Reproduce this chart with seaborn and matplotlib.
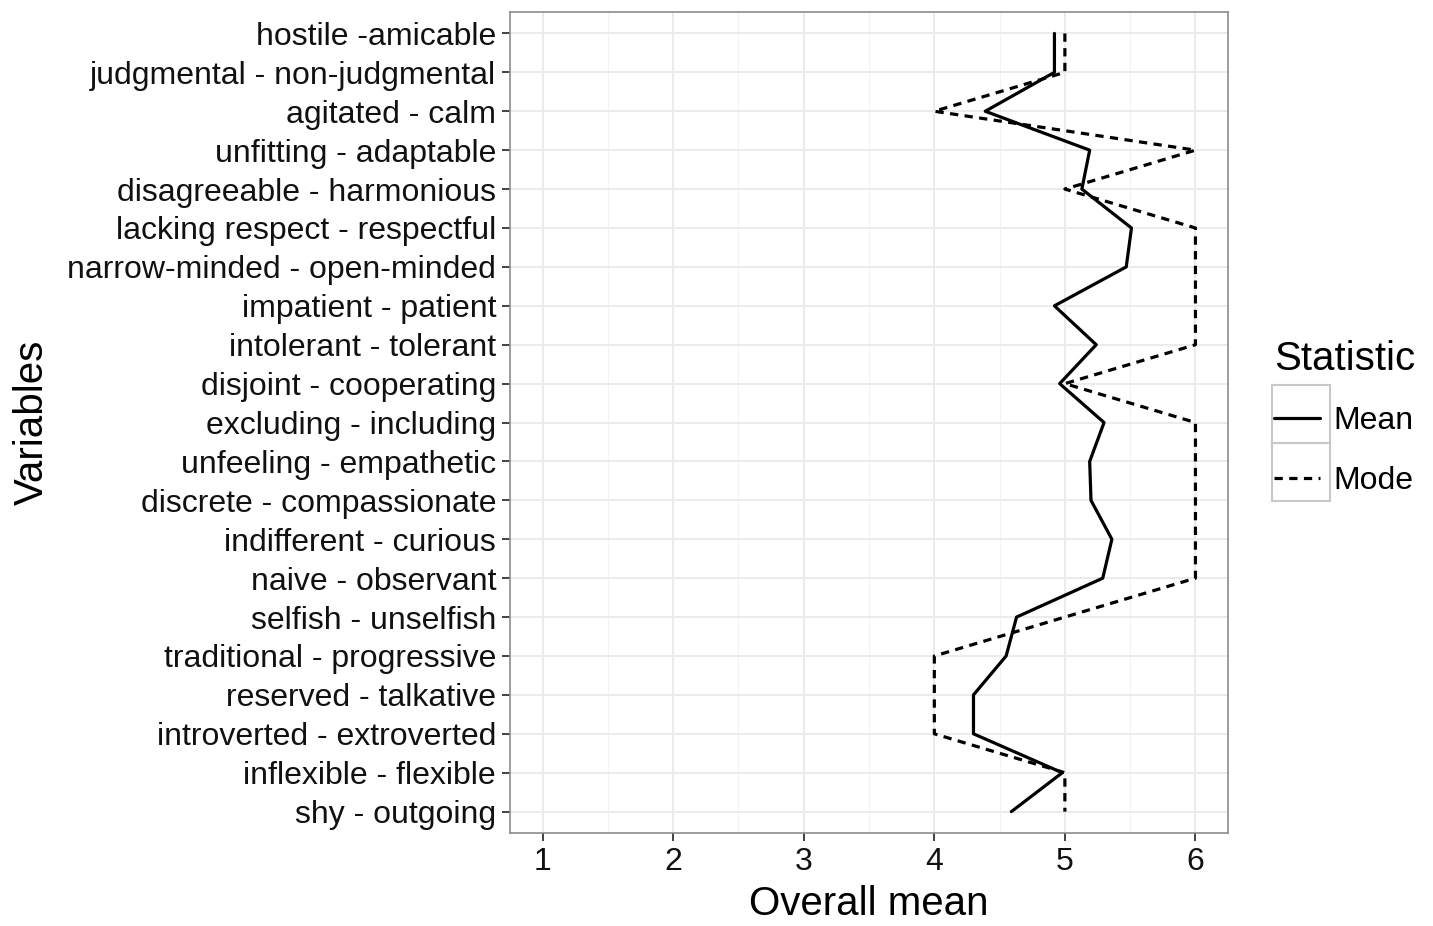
import numpy as np
import pandas as pd
import seaborn as sns
import matplotlib as mpl
mpl.use('Agg')
import matplotlib.pyplot as plt
from matplotlib.patches import Rectangle

# data
variables = ['hostile -amicable', 'judgmental - non-judgmental', 'agitated - calm',
             'unfitting - adaptable', 'disagreeable - harmonious',
             'lacking respect - respectful', 'narrow-minded - open-minded',
             'impatient - patient', 'intolerant - tolerant', 'disjoint - cooperating',
             'excluding - including', 'unfeeling - empathetic',
             'discrete - compassionate', 'indifferent - curious', 'naive - observant',
             'selfish - unselfish', 'traditional - progressive', 'reserved - talkative',
             'introverted - extroverted', 'inflexible - flexible', 'shy - outgoing']
mean_vals = [4.92, 4.92, 4.39, 5.19, 5.13, 5.51, 5.47, 4.92, 5.24, 4.96, 5.30,
             5.19, 5.20, 5.36, 5.29, 4.63, 4.55, 4.30, 4.30, 4.98, 4.59]
mode_vals = [5, 5, 4, 6, 5, 6, 6, 6, 6, 5, 6, 6, 6, 6, 6, 5, 4, 4, 4, 5, 5]
stat_names = ['Mean', 'Mode']

df = pd.DataFrame({'Variable': variables * 2,
                   'value': mean_vals + mode_vals,
                   'Statistic': [stat_names[0]] * len(variables) + [stat_names[1]] * len(variables)})

sns.set_style('whitegrid')
plt.rcParams['font.family'] = ['Liberation Sans', 'DejaVu Sans']
plt.rcParams['text.color'] = 'black'

fig = plt.figure(figsize=(14.33, 9.26), dpi=100)
ax = fig.add_axes([0.3559, 0.1004, 0.857 - 0.3559, 0.987 - 0.1004])

sns.lineplot(data=df, x='value', y='Variable', hue='Statistic', style='Statistic',
             palette=['black', 'black'], dashes={'Mean': '', 'Mode': (2.6, 2.0)},
             sort=False, orient='y', estimator=None, linewidth=2.3, ax=ax, legend=True)

ax.set_xlim(0.75, 6.25)
ax.set_ylim(len(variables) - 0.45, -0.55)
ax.set_xticks([1, 2, 3, 4, 5, 6])
ax.set_xticks([1.5, 2.5, 3.5, 4.5, 5.5], minor=True)
ax.grid(which='major', color='#ebebeb', linewidth=1.4)
ax.grid(which='minor', axis='x', color='#f3f3f3', linewidth=0.8)
ax.set_axisbelow(True)
for s in ax.spines.values():
    s.set_color('#8c8c8c')
    s.set_linewidth(1.2)
ax.tick_params(axis='both', which='major', length=6, width=1.3, color='#333333',
               labelsize=23, labelcolor='#111111', pad=4)
ax.tick_params(axis='x', which='minor', length=0)
ax.tick_params(left=True, bottom=True)
ax.set_xlabel('Overall mean', fontsize=29, color='black', labelpad=6)
ax.set_ylabel('Variables', fontsize=29, color='black', labelpad=12)

handles, labels = ax.get_legend_handles_labels()
leg = ax.legend(handles, labels, title='Statistic', loc='upper left',
                bbox_to_anchor=(1.064, 0.60), frameon=False, fontsize=23,
                title_fontsize=29, handlelength=1.45, handletextpad=0.4,
                labelspacing=0.93, borderaxespad=0, borderpad=0,
                alignment='left', labelcolor='black')
leg.get_title().set_color('black')
leg._legend_box.sep = 20

# legend key boxes like the reference
for y0 in [443, 501]:
    fig.patches.append(Rectangle((1272 / 1433, 1 - y0 / 926), 58 / 1433, 58 / 926,
                                 transform=fig.transFigure, fill=False,
                                 edgecolor='#c8c8c8', linewidth=1.5))

fig.savefig('out.png', dpi=100)
